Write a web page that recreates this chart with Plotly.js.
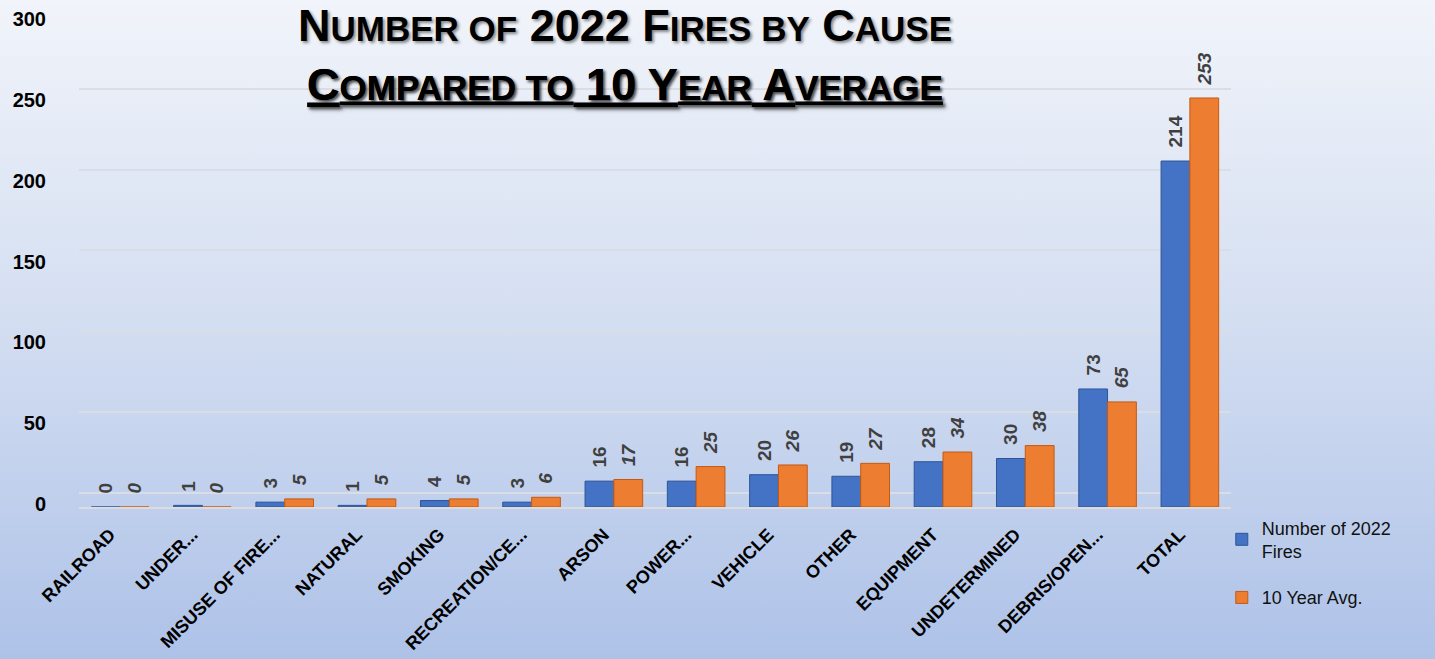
<!DOCTYPE html>
<html>
<head>
<meta charset="utf-8">
<script src="https://cdn.plot.ly/plotly-3.0.1.min.js"></script>
<style>
  html, body { margin:0; padding:0; }
  body { width:1435px; height:659px; background: linear-gradient(to bottom, #f1f4fa 0%, #d6e0f2 45%, #aec2e8 100%); }
  #chart { width:1435px; height:659px; }
</style>
</head>
<body>
<div id="chart"></div>
<script>
const categories = ["RAILROAD", "UNDER...", "MISUSE OF FIRE...", "NATURAL", "SMOKING", "RECREATION/CE...", "ARSON", "POWER...", "VEHICLE", "OTHER", "EQUIPMENT", "UNDETERMINED", "DEBRIS/OPEN...", "TOTAL"];
const fires2022 = [0, 1, 3, 1, 4, 3, 16, 16, 20, 19, 28, 30, 73, 214];
const avg10yr = [0, 0, 5, 5, 5, 6, 17, 25, 26, 27, 34, 38, 65, 253];
const seriesNames = ["Number of 2022<br>Fires", "10 Year Avg."];
const yTicks = [0, 50, 100, 150, 200, 250, 300];

const labelFont = {family: "Liberation Sans, Arial, sans-serif", size: 19, color: "#404040"};
const pad = "\u00a0\u00a0";

const traces = [
  {
    type: "bar", name: seriesNames[0], x: categories, y: fires2022, legendgroup: "a",
    marker: {color: "#4472C4", line: {color: "#2f5597", width: 1}},
    text: fires2022.map(v => pad + v), textposition: "outside", textangle: -90, constraintext: "none",
    textfont: Object.assign({}, labelFont, {weight: "bold"}),
    cliponaxis: false
  },
  {
    type: "bar", name: seriesNames[1], x: categories, y: avg10yr, legendgroup: "b",
    marker: {color: "#ED7D31", line: {color: "#c55a11", width: 1}},
    text: avg10yr.map(v => pad + v), textposition: "outside", textangle: -90, constraintext: "none",
    textfont: Object.assign({}, labelFont, {weight: "bold", style: "italic"}),
    cliponaxis: false
  },
  {
    type: "scatter", x: categories, y: fires2022, yaxis: "y2", mode: "markers",
    marker: {opacity: 0, size: 1}, showlegend: false, hoverinfo: "skip"
  }
];

const layout = {
  width: 1435, height: 659,
  paper_bgcolor: "rgba(0,0,0,0)", plot_bgcolor: "rgba(0,0,0,0)",
  margin: {l: 79, r: 204, t: 22, b: 152, autoexpand: false},
  barmode: "group", bargap: 0.3, bargroupgap: 0,
  showlegend: true,
  legend: {
    x: 0.992, xanchor: "left", y: -0.005, yanchor: "top",
    font: {family: "Liberation Sans, Arial, sans-serif", size: 18, color: "#111"},
    bgcolor: "rgba(0,0,0,0)", traceorder: "grouped", tracegroupgap: 20, itemwidth: 30
  },
  xaxis: {
    type: "category", range: [-0.5, 13.5], tickangle: -45, automargin: false,
    tickfont: {family: "Liberation Sans, Arial, sans-serif", size: 18, color: "#000", weight: "bold"},
    ticklabelshift: -10, ticklabelstandoff: 8,
    showline: true, linecolor: "#dcdcdc", linewidth: 2, ticks: "", showgrid: false
  },
  yaxis: {
    range: [0, 300], tickvals: yTicks, ticks: "", showgrid: false, zeroline: false, automargin: false,
    tickfont: {family: "Liberation Sans, Arial, sans-serif", size: 20, color: "#000", weight: "bold"},
    ticklabelstandoff: 32, ticklabelshift: -3
  },
  yaxis2: {
    overlaying: "y", range: [-8.7, 291.3], tickvals: yTicks, showticklabels: false, automargin: false,
    showgrid: true, gridcolor: "#dadde3", gridwidth: 2, zeroline: false, ticks: ""
  },
  annotations: [
    {
      xref: "paper", yref: "paper", x: 0.474, y: 1.05, xanchor: "center", yanchor: "top",
      align: "center", showarrow: false,
      text: "N<span style='font-size:35px'>UMBER OF</span> 2022 F<span style='font-size:35px'>IRES BY</span> C<span style='font-size:35px'>AUSE</span><br><u>C<span style='font-size:35px'>OMPARED TO</span> 10 Y<span style='font-size:35px'>EAR</span> A<span style='font-size:35px'>VERAGE</span></u>",
      font: {family: "Liberation Sans Narrow, Liberation Sans, Arial, sans-serif", size: 45, color: "#000", weight: "bold", shadow: "2px 2px 3px rgba(0,0,0,0.45)"}
    }
  ]
};

Plotly.newPlot("chart", traces, layout, {displayModeBar: false, staticPlot: true});
</script>
</body>
</html>
